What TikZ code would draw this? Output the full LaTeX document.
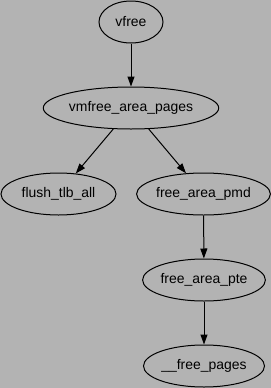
\documentclass[tikz,border=0pt]{standalone}
\usepackage{fontspec}
\setmainfont{Liberation Sans}
\usetikzlibrary{shapes.geometric,arrows.meta}
\definecolor{bg}{HTML}{B3B3B3}
\begin{document}
\begin{tikzpicture}[x=1bp,y=-1bp,
  nd/.style={draw=black, line width=1bp, ellipse, inner sep=0pt, font=\fontsize{14}{16}\selectfont},
  ar/.style={-{Triangle[length=10bp,width=7bp]}, line width=1bp, draw=black}]
\fill[bg] (0,0) rectangle (271,388);
\useasboundingbox (0,0) rectangle (271,388);
\node[nd, minimum width=64bp, minimum height=42bp] (vfree) at (131,22) {vfree};
\node[nd, minimum width=162bp, minimum height=42bp] (vmfree) at (131,108) {vmfree\_area\_pages};
\node[nd, minimum width=115bp, minimum height=42bp] (flush) at (58.5,194) {flush\_tlb\_all};
\node[nd, minimum width=133bp, minimum height=42bp] (pmd) at (203.5,194) {free\_area\_pmd};
\node[nd, minimum width=122bp, minimum height=42bp] (pte) at (204,280) {free\_area\_pte};
\node[nd, minimum width=121bp, minimum height=42bp] (pages) at (204,366) {\_\_free\_pages};
\draw[ar] (vfree) -- (vmfree);
\draw[ar] (vmfree) -- (flush);
\draw[ar] (vmfree) -- (pmd);
\draw[ar] (pmd) -- (pte);
\draw[ar] (pte) -- (pages);
\end{tikzpicture}
\end{document}
